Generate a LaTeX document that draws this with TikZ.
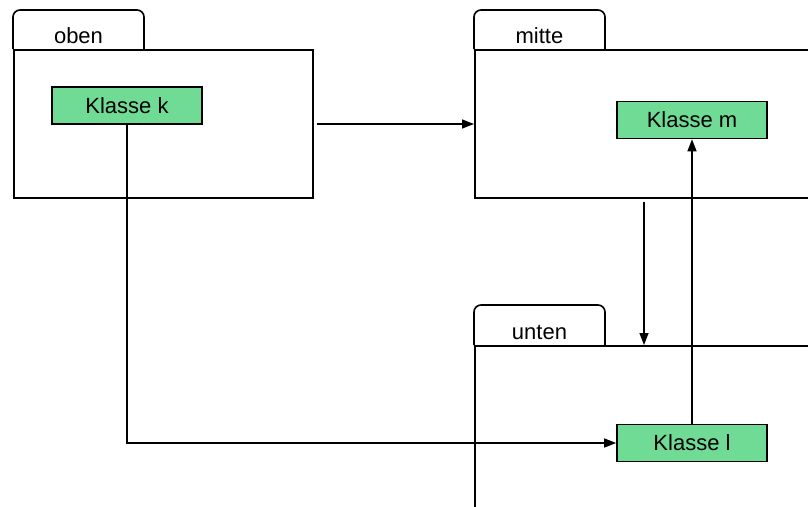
\documentclass[tikz,border=0pt]{standalone}
\usepackage{fontspec}
\setmainfont{Liberation Sans}
\usetikzlibrary{arrows.meta,calc}
\definecolor{classgreen}{RGB}{112,219,148}
\tikzset{
  pkgbody/.style={draw, line width=1.6pt, inner sep=0pt, anchor=north west},
  pkgtab/.style={draw, line width=1.6pt, rounded corners=7pt},
  pkglabel/.style={anchor=base, inner sep=0pt, font=\fontsize{22}{26}\selectfont},
  classbox/.style={draw, line width=1.6pt, fill=classgreen, minimum width=150pt,
    minimum height=37pt, inner sep=0pt, font=\fontsize{22}{26}\selectfont},
  dep/.style={line width=1.4pt, -{Triangle[length=12pt,width=9pt]}}
}
\begin{document}
\begin{tikzpicture}[x=1pt,y=-1pt]
\useasboundingbox (0,0) rectangle (808,506);
\clip (0,0) rectangle (808,506);

% package "oben"
\draw[pkgtab] (13,49) -- (13,10) -- (144,10) -- (144,49);
\node[pkglabel] (obenlbl) at (78.5,43) {oben};
\node[pkgbody, minimum width=299pt, minimum height=148pt] (oben) at (13,49) {};

% package "mitte"
\draw[pkgtab] (474,49) -- (474,10) -- (605,10) -- (605,49);
\node[pkglabel] (mittelbl) at (539.5,43) {mitte};
\node[pkgbody, minimum width=360pt, minimum height=148pt] (mitte) at (474,49) {};

% package "unten"
\draw[pkgtab] (474,345) -- (474,305) -- (605,305) -- (605,345);
\node[pkglabel] (untenlbl) at (539.5,339) {unten};
\node[pkgbody, minimum width=360pt, minimum height=200pt] (unten) at (474,345) {};

% classes
\node[classbox] (k) at (127,105.5) {Klasse k};
\node[classbox] (m) at (692,120) {Klasse m};
\node[classbox] (l) at (692,443) {Klasse l};

% dependencies
\draw[dep] ([xshift=3pt]oben.east |- 0,124) -- (mitte.west |- 0,124);
\draw[dep] ([xshift=170pt,yshift=-3pt]mitte.south west) -- ([xshift=170pt]unten.north west);
\draw[dep] (l.north) -- (m.south);
\draw[dep] (k.south) |- (l.west);
\end{tikzpicture}
\end{document}
